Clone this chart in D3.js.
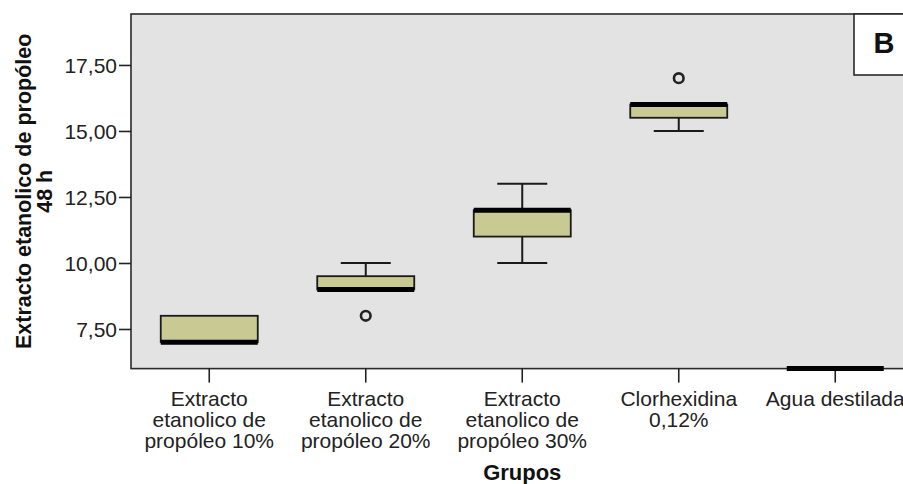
<!DOCTYPE html>
<html>
<head>
<meta charset="utf-8">
<script src="https://cdn.jsdelivr.net/npm/d3@7"></script>
<style>
  html, body { margin: 0; padding: 0; background: #ffffff; }
  svg { display: block; }
</style>
</head>
<body>
<svg id="chart" width="903" height="484"></svg>
<script>
// ---- data ----
const categories = [
  "Extracto etanolico de propóleo 10%",
  "Extracto etanolico de propóleo 20%",
  "Extracto etanolico de propóleo 30%",
  "Clorhexidina 0,12%",
  "Agua destilada"
];
const categoryLabelLines = [
  ["Extracto", "etanolico de", "propóleo 10%"],
  ["Extracto", "etanolico de", "propóleo 20%"],
  ["Extracto", "etanolico de", "propóleo 30%"],
  ["Clorhexidina", "0,12%"],
  ["Agua destilada"]
];
const whiskerLow  = [7,   9,   10,  15,   6];
const q1          = [7,   9,   11,  15.5, 6];
const median      = [7,   9,   12,  16,   6];
const q3          = [8,   9.5, 12,  16,   6];
const whiskerHigh = [8,   10,  13,  16,   6];
const outliers    = [[],  [8], [],  [17], []];
const yTicks = [7.5, 10, 12.5, 15, 17.5];
const yDomain = [6, 19.43];
const yTitleLines = ["Extracto etanolico de propóleo", "48 h"];
const xTitle = "Grupos";
const panelLabel = "B";

// ---- layout ----
const svg = d3.select("#chart");
const plotLeft = 131, plotTop = 14, plotBottom = 368.6;
const bandW = 156.5;
const plotRight = plotLeft + bandW * categories.length;
const boxW = 97, capW = 50;
const font = "'Liberation Sans', Arial, sans-serif";

const x = d3.scaleBand().domain(categories).range([plotLeft, plotRight]).padding(0);
const y = d3.scaleLinear().domain(yDomain).range([plotBottom, plotTop]);
const cx = c => x(c) + x.bandwidth() / 2;

// plot background
svg.append("rect")
  .attr("x", plotLeft).attr("y", plotTop)
  .attr("width", plotRight - plotLeft).attr("height", plotBottom - plotTop)
  .attr("fill", "#e3e3e3")
  .attr("stroke", "#2a2a2a").attr("stroke-width", 1.6);

// y axis
const yAxis = d3.axisLeft(y)
  .tickValues(yTicks)
  .tickSize(12)
  .tickPadding(2)
  .tickFormat(d => d.toFixed(2).replace(".", ","));
const gy = svg.append("g").attr("transform", `translate(${plotLeft},0)`).call(yAxis);
gy.select(".domain").remove();
gy.selectAll(".tick line").attr("stroke", "#222").attr("stroke-width", 1.6);
gy.selectAll(".tick text")
  .attr("font-family", font).attr("font-size", 21).attr("fill", "#222")
  .attr("dy", null).attr("y", 8);

// x axis
const xAxis = d3.axisBottom(x).tickSize(14).tickFormat("");
const gx = svg.append("g").attr("transform", `translate(0,${plotBottom})`).call(xAxis);
gx.select(".domain").remove();
gx.selectAll(".tick line").attr("stroke", "#222").attr("stroke-width", 1.6);

// multi-line category labels
categories.forEach((c, i) => {
  const t = svg.append("text")
    .attr("x", cx(c)).attr("y", 406)
    .attr("text-anchor", "middle")
    .attr("font-family", font).attr("font-size", 21).attr("fill", "#222");
  categoryLabelLines[i].forEach((ln, j) => {
    t.append("tspan").attr("x", cx(c)).attr("dy", j === 0 ? 0 : 21).text(ln);
  });
});

// boxes
const g = svg.append("g");
categories.forEach((c, i) => {
  const xc = cx(c);
  if (whiskerHigh[i] > q3[i]) {
    g.append("line").attr("x1", xc).attr("x2", xc)
      .attr("y1", y(q3[i])).attr("y2", y(whiskerHigh[i]))
      .attr("stroke", "#1a1a1a").attr("stroke-width", 2);
    g.append("line").attr("x1", xc - capW / 2).attr("x2", xc + capW / 2)
      .attr("y1", y(whiskerHigh[i])).attr("y2", y(whiskerHigh[i]))
      .attr("stroke", "#1a1a1a").attr("stroke-width", 2);
  }
  if (whiskerLow[i] < q1[i]) {
    g.append("line").attr("x1", xc).attr("x2", xc)
      .attr("y1", y(q1[i])).attr("y2", y(whiskerLow[i]))
      .attr("stroke", "#1a1a1a").attr("stroke-width", 2);
    g.append("line").attr("x1", xc - capW / 2).attr("x2", xc + capW / 2)
      .attr("y1", y(whiskerLow[i])).attr("y2", y(whiskerLow[i]))
      .attr("stroke", "#1a1a1a").attr("stroke-width", 2);
  }
  if (q3[i] > q1[i]) {
    g.append("rect")
      .attr("x", xc - boxW / 2).attr("y", y(q3[i]))
      .attr("width", boxW).attr("height", y(q1[i]) - y(q3[i]))
      .attr("fill", "#c9c994")
      .attr("stroke", "#1a1a1a").attr("stroke-width", 1.8);
  }
  g.append("line")
    .attr("x1", xc - boxW / 2).attr("x2", xc + boxW / 2)
    .attr("y1", y(median[i])).attr("y2", y(median[i]))
    .attr("stroke", "#000").attr("stroke-width", 5);
  outliers[i].forEach(v => {
    g.append("circle")
      .attr("cx", xc).attr("cy", y(v)).attr("r", 4.8)
      .attr("fill", "none")
      .attr("stroke", "#222").attr("stroke-width", 2.6);
  });
});

// axis titles
const yt = svg.append("text")
  .attr("transform", `translate(0,${(plotTop + plotBottom) / 2}) rotate(-90)`)
  .attr("text-anchor", "middle")
  .attr("font-family", font).attr("font-weight", "bold")
  .attr("font-size", 21.5).attr("fill", "#111");
yTitleLines.forEach((ln, j) => {
  yt.append("tspan").attr("x", 0).attr("y", j === 0 ? 31 : 52).text(ln);
});

svg.append("text")
  .attr("x", (plotLeft + plotRight) / 2).attr("y", 480)
  .attr("text-anchor", "middle")
  .attr("font-family", font).attr("font-weight", "bold")
  .attr("font-size", 22).attr("fill", "#111")
  .text(xTitle);

// panel label box
svg.append("rect")
  .attr("x", 854).attr("y", plotTop).attr("width", 60).attr("height", 61)
  .attr("fill", "#ffffff").attr("stroke", "#2a2a2a").attr("stroke-width", 1.6);
svg.append("text")
  .attr("x", 884).attr("y", 53)
  .attr("text-anchor", "middle")
  .attr("font-family", font).attr("font-weight", "bold")
  .attr("font-size", 29).attr("fill", "#111")
  .text(panelLabel);
</script>
</body>
</html>
